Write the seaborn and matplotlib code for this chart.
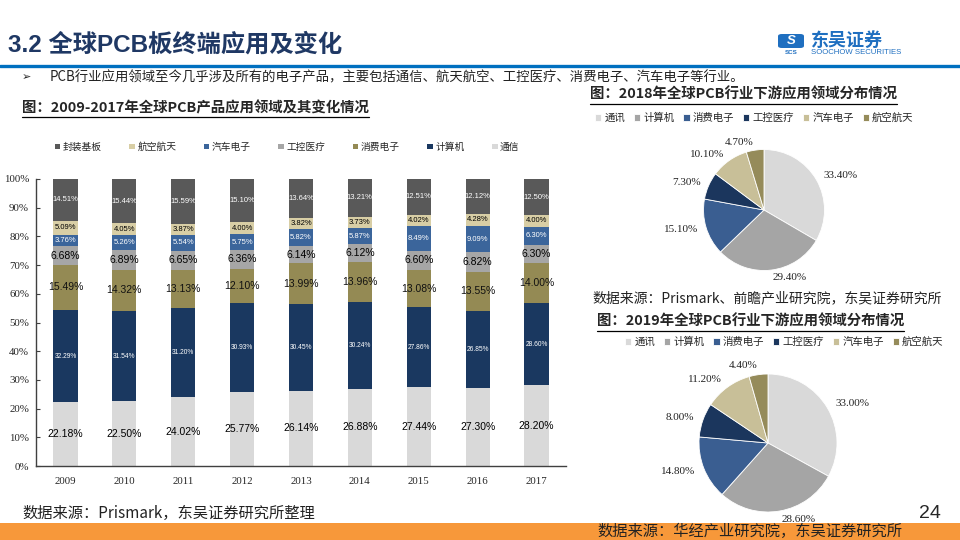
import numpy as np
import pandas as pd
import matplotlib
matplotlib.use('Agg')
import matplotlib.pyplot as plt
import seaborn as sns
from matplotlib.lines import Line2D
from matplotlib.patches import Rectangle, FancyBboxPatch

# data: 2009-2017 stacked bars (bottom -> top)
years = ['2009', '2010', '2011', '2012', '2013', '2014', '2015', '2016', '2017']
categories = ['通信', '计算机', '消费电子', '工控医疗', '汽车电子', '航空航天', '封装基板']
tongxin = [22.18, 22.50, 24.02, 25.77, 26.14, 26.88, 27.44, 27.30, 28.20]
jisuanji = [32.29, 31.54, 31.20, 30.93, 30.45, 30.24, 27.86, 26.85, 28.60]
xiaofei = [15.49, 14.32, 13.13, 12.10, 13.99, 13.96, 13.08, 13.55, 14.00]
gongkong = [6.68, 6.89, 6.65, 6.36, 6.14, 6.12, 6.60, 6.82, 6.30]
qiche = [3.76, 5.26, 5.54, 5.75, 5.82, 5.87, 8.49, 9.09, 6.30]
hangkong = [5.09, 4.05, 3.87, 4.00, 3.82, 3.73, 4.02, 4.28, 4.00]
fengzhuang = [14.51, 15.44, 15.59, 15.10, 13.64, 13.21, 12.51, 12.12, 12.50]

# data: pies
pie_labels = ['通讯', '计算机', '消费电子', '工控医疗', '汽车电子', '航空航天']
share_2018 = [33.4, 29.4, 15.1, 7.3, 10.1, 4.7]
share_2019 = [33.0, 28.6, 14.8, 8.0, 11.2, 4.4]

bar_colors = {'通信': '#D9D9D9', '计算机': '#1A3860', '消费电子': '#948A54',
              '工控医疗': '#A6A6A6', '汽车电子': '#3B659B', '航空航天': '#D8CEA5',
              '封装基板': '#595959'}
# label style per segment: (fontsize, color)
lab_style = {'通信': (7.5, 'black'), '计算机': (4.8, 'white'), '消费电子': (7.5, '#111111'),
             '工控医疗': (7.5, 'black'), '汽车电子': (5.5, 'white'), '航空航天': (5.5, 'black'),
             '封装基板': (5.5, 'white')}
pie_colors = ['#D9D9D9', '#A5A5A5', '#3A5E91', '#1B365D', '#C8BF98', '#958B5A']

sns.set_theme(style='white')
plt.rcParams['font.family'] = ['Noto Sans CJK SC', 'DejaVu Sans']
plt.rcParams['axes.unicode_minus'] = False

W, H = 960, 540
fig = plt.figure(figsize=(9.6, 5.4), dpi=100)
fig.patch.set_facecolor('white')

def fx(x):
    return x / W

def fy(y):
    return 1 - y / H

def underline(t, lw=0.9, gap=1.5):
    r = fig.canvas.get_renderer()
    bb = t.get_window_extent(renderer=r)
    yy = (bb.y0 - gap) / H
    fig.add_artist(Line2D([bb.x0 / W, bb.x1 / W], [yy, yy], transform=fig.transFigure,
                          color='black', lw=lw))

# ---- page header ----
fig.text(fx(8), fy(45), '3.2 全球PCB板终端应用及变化', fontsize=17.5, fontweight='bold',
         color='#1F3864', va='center', family=['Liberation Sans', 'Noto Sans CJK SC'])
fig.add_artist(Line2D([0, 1], [fy(66), fy(66)], transform=fig.transFigure,
                      color='#0070C0', lw=2.4))
# logo
fig.add_artist(FancyBboxPatch((fx(778), fy(48)), fx(26), 14 / H, transform=fig.transFigure,
                              boxstyle='round,pad=0.0,rounding_size=0.004',
                              facecolor='#1F6FC0', edgecolor='none'))
fig.text(fx(791), fy(41), 'S', fontsize=9.5, fontweight='bold', color='white',
         ha='center', va='center', family='Liberation Sans', style='italic')
fig.text(fx(791), fy(52.5), 'SCS', fontsize=4.5, fontweight='bold', color='#1F6FC0',
         ha='center', va='center', family='Liberation Sans')
fig.text(fx(811), fy(40), '东吴证券', fontsize=13, fontweight='bold', color='#1F6FC0',
         va='center')
fig.text(fx(811), fy(53), 'SOOCHOW SECURITIES', fontsize=5.6, color='#1F6FC0',
         va='center', family='Liberation Sans')

fig.text(fx(22), fy(77), '➢', fontsize=8, va='center', family=['DejaVu Sans'], color='#222222')
fig.text(fx(50), fy(77), 'PCB行业应用领域至今几乎涉及所有的电子产品，主要包括通信、航天航空、工控医疗、消费电子、汽车电子等行业。',
         fontsize=9.6, va='center', color='#222222')

# ---- stacked bar chart ----
t1 = fig.text(fx(22), fy(108), '图：2009-2017年全球PCB产品应用领域及其变化情况', fontsize=10.4,
              fontweight='bold', va='center')
underline(t1)

series = dict(zip(categories, [tongxin, jisuanji, xiaofei, gongkong, qiche, hangkong, fengzhuang]))
vals = pd.DataFrame(series, index=years)
cum = vals.cumsum(axis=1)
df = cum.reset_index().melt(id_vars='index', var_name='cat', value_name='cum')
df = df.rename(columns={'index': 'year'})
legend_order = categories[::-1]

ax = fig.add_axes([fx(36), fy(466), 530 / W, 287 / H])
sns.barplot(data=df, x='year', y='cum', hue='cat', hue_order=legend_order, order=years,
            palette=bar_colors, dodge=False, width=0.41, saturation=1, errorbar=None,
            linewidth=0, ax=ax)

for c in categories:
    size, col = lab_style[c]
    for i, y in enumerate(years):
        v = vals.loc[y, c]
        mid = cum.loc[y, c] - v / 2
        ax.text(i, mid, f'{v:.2f}%', ha='center', va='center', fontsize=size, color=col,
                family=['Liberation Sans'])

ax.set_xlim(-0.5, len(years) - 0.5)
ax.set_ylim(0, 100)
ax.set_yticks(range(0, 101, 10))
ax.set_yticklabels([f'{t}%' for t in range(0, 101, 10)], family='Liberation Serif', fontsize=7.8)
ax.set_xticks(range(len(years)))
ax.set_xticklabels(years, family='Liberation Serif', fontsize=7.8)
ax.set_xticks(np.arange(0.5, len(years) - 0.5, 1), minor=True)
ax.tick_params(axis='x', which='major', length=0, pad=8)
ax.tick_params(axis='x', which='minor', length=3, width=0.8, color='#404040', direction='out')
ax.tick_params(axis='y', length=3, width=0.8, color='#404040', direction='in', pad=5, left=True)
ax.set_xlabel('')
ax.set_ylabel('')
for s in ['top', 'right']:
    ax.spines[s].set_visible(False)
for s in ['left', 'bottom']:
    ax.spines[s].set_color('#404040')
    ax.spines[s].set_linewidth(1.0)

handles, labels = ax.get_legend_handles_labels()
ax.legend(handles, labels, ncol=7, frameon=False, loc='center left',
          bbox_to_anchor=(fx(55), fy(147)), bbox_transform=fig.transFigure,
          borderaxespad=0, borderpad=0, fontsize=7, handlelength=0.55, handleheight=0.55,
          handletextpad=0.25, columnspacing=2.85)

fig.text(fx(22), fy(513), '数据来源：Prismark，东吴证券研究所整理', fontsize=11, va='center',
         color='#222222')

# ---- pies ----
def draw_pie(values, cx, cy, r, title_xy, title, leg_xy, src_xy, src):
    span = 1.6
    side = 2 * span * r
    pax = fig.add_axes([fx(cx - side / 2), fy(cy + side / 2), side / W, side / H])
    wedges, texts = pax.pie(values, labels=[f'{v:.2f}%' for v in values], colors=pie_colors,
                            startangle=90, counterclock=False, labeldistance=1.13,
                            wedgeprops=dict(edgecolor='white', linewidth=0.6),
                            textprops=dict(family='Liberation Serif', fontsize=8, color='#222222'))
    pax.set_xlim(-span, span)
    pax.set_ylim(-span, span)
    pax.set_aspect('equal')
    pax.axis('off')
    tt = fig.text(fx(title_xy[0]), fy(title_xy[1]), title, fontsize=10.4, fontweight='bold',
                  va='center')
    underline(tt)
    pax.legend(wedges, pie_labels, ncol=6, frameon=False, loc='center left',
               bbox_to_anchor=(fx(leg_xy[0]), fy(leg_xy[1])), bbox_transform=fig.transFigure,
               borderaxespad=0, borderpad=0, fontsize=7.5, handlelength=0.6, handleheight=0.6,
               handletextpad=0.3, columnspacing=0.85)
    if src:
        fig.text(fx(src_xy[0]), fy(src_xy[1]), src, fontsize=10, va='center', color='#222222')

draw_pie(share_2018, 764, 210, 60.5, (590, 95), '图：2018年全球PCB行业下游应用领域分布情况',
         (595, 118), (592, 298), '数据来源：Prismark、前瞻产业研究院，东吴证券研究所')
draw_pie(share_2019, 768, 443, 69, (597, 322), '图：2019年全球PCB行业下游应用领域分布情况',
         (625, 342), None, None)

# ---- footer ----
fig.add_artist(Rectangle((0, 0), 1, 17 / H, transform=fig.transFigure,
                         facecolor='#F7983A', edgecolor='none'))
fig.text(fx(941), fy(513), '24', fontsize=14, ha='right', va='center', family='Liberation Sans')
fig.text(fx(597), fy(531), '数据来源：华经产业研究院，东吴证券研究所', fontsize=11, va='center',
         color='#222222')

fig.savefig('out.png', dpi=100)
